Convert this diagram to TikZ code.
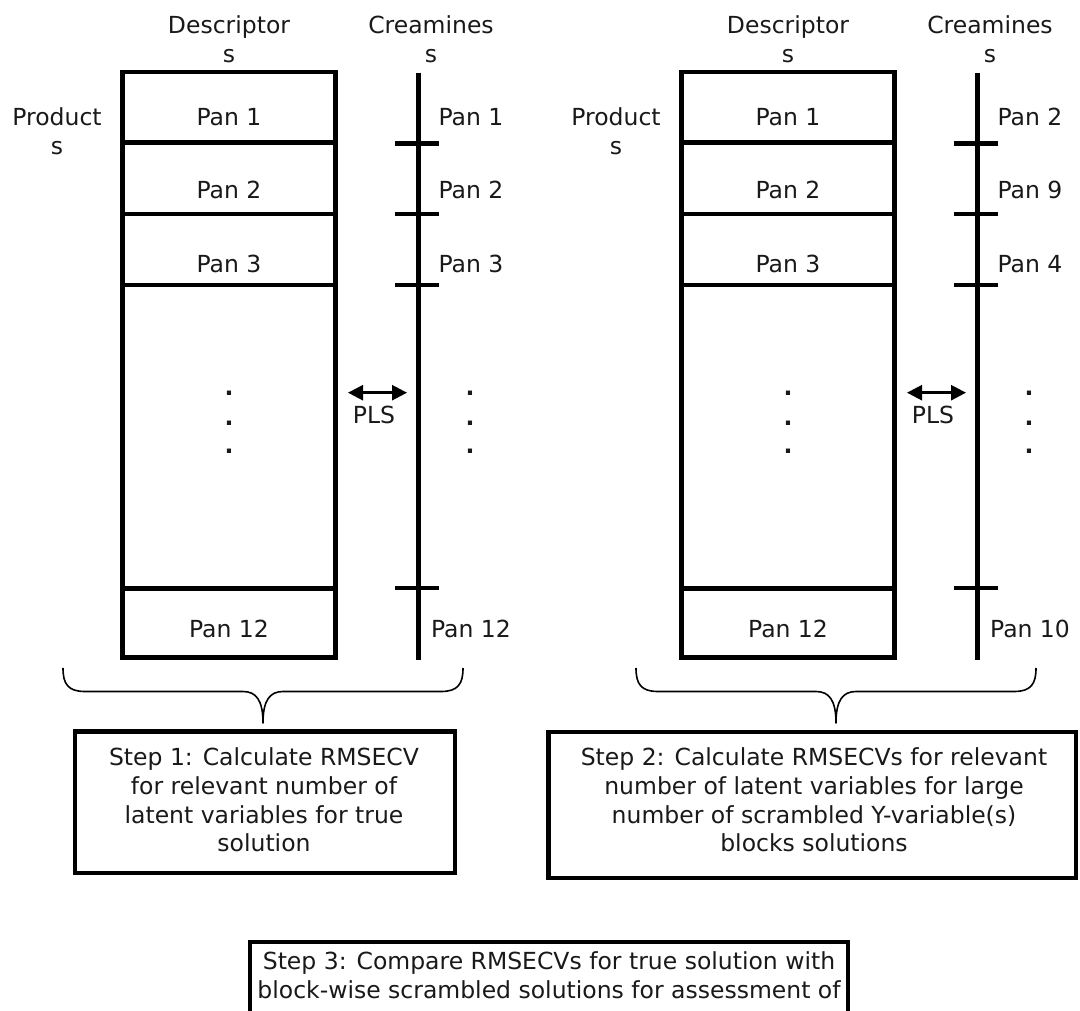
\documentclass[tikz,border=0pt]{standalone}
\usepackage{fontspec}
\setmainfont{DejaVu Sans}
\usetikzlibrary{arrows.meta}
\newcommand{\mypanel}[6]{%
\begin{scope}[xshift=#1]
  % descriptor block
  \draw[heavy] (122.5,72) rectangle (335.5,657.5);
  \foreach \yy in {142.5,214,285,588.5} \draw[heavy] (122.5,\yy) -- (335.5,\yy);
  \node[lbl,anchor=base] (#2d1) at (229,126) {Pan 1};
  \node[lbl,anchor=base] (#2d2) at (229,199) {Pan 2};
  \node[lbl,anchor=base] (#2d3) at (229,272.5) {Pan 3};
  \node[lbl,anchor=base] (#2d12) at (229,637) {Pan 12};
  \foreach \yy/\nn in {395.3/a,425/b,453.3/c}
    \node[lbl,anchor=base,font=\fontsize{23.5}{29}\selectfont\bfseries] (#2dd\nn) at (229,\yy) {.};
  % creamines axis
  \coordinate (#2ctop) at (418.5,72.7);
  \coordinate (#2cbot) at (418.5,660);
  \draw[axisline] (#2ctop) -- (#2cbot);
  \foreach \yy in {143.5,214,285,588} \draw[axisline] (395,\yy) -- (439,\yy);
  \node[lbl,anchor=base] (#2c1) at (471,126) {#3};
  \node[lbl,anchor=base] (#2c2) at (471,199) {#4};
  \node[lbl,anchor=base] (#2c3) at (471,272.5) {#5};
  \node[lbl,anchor=base] (#2c12) at (471,637) {#6};
  \foreach \yy/\nn in {395.3/a,425/b,453.3/c}
    \node[lbl,anchor=base,font=\fontsize{23.5}{29}\selectfont\bfseries] (#2cd\nn) at (470,\yy) {.};
  % headers
  \node[lbl] (#2hdesc) at (229,39.6) {Descriptor\\s};
  \node[lbl] (#2hcream) at (431,39.6) {Creamines\\s};
  \node[lbl] (#2hprod) at (57,131) {Product\\s};
  % PLS arrow
  \coordinate (#2plsL) at (348,392.7);
  \coordinate (#2plsR) at (407,392.7);
  \draw[plsarrow] (#2plsL) -- (#2plsR);
  \node[lbl,anchor=base] (#2pls) at (374,423) {PLS};
\end{scope}}
\begin{document}
\begin{tikzpicture}[x=1pt,y=-1pt,
  heavy/.style={line width=4.5pt, line cap=rect},
  axisline/.style={line width=4.5pt},
  lbl/.style={font=\fontsize{23.5}{29}\selectfont, inner sep=0pt, align=center, text=black!90},
  steptext/.style={font=\fontsize{23.5}{28.6}\selectfont, inner sep=0pt, align=center, text=black!90},
  plsarrow/.style={line width=2.5pt, {Triangle[length=15pt,width=15pt]}-{Triangle[length=15pt,width=15pt]}},
  bracel/.style={line width=1.6pt, line join=round},
  stepframe/.style={line width=4.5pt}]
\useasboundingbox (0,0) rectangle (1080,1011);

\mypanel{0pt}{L}{Pan 1}{Pan 2}{Pan 3}{Pan 12}
\mypanel{559pt}{R}{Pan 2}{Pan 9}{Pan 4}{Pan 10}

% braces
\draw[bracel] (63,668) .. controls (63,684) and (68,691.5) .. (85,691.5)
  -- (243,691.5) .. controls (256,691.5) and (263,700) .. (263,723)
  .. controls (263,700) and (270,691.5) .. (283,691.5)
  -- (441,691.5) .. controls (458,691.5) and (463,684) .. (463,668);
\draw[bracel] (636,668) .. controls (636,684) and (641,691.5) .. (658,691.5)
  -- (816,691.5) .. controls (829,691.5) and (836,700) .. (836,723)
  .. controls (836,700) and (843,691.5) .. (856,691.5)
  -- (1014,691.5) .. controls (1031,691.5) and (1036,684) .. (1036,668);

% step boxes
\draw[stepframe] (75,731.7) rectangle (455,873);
\node[steptext] (step1) at (264,800) {Step 1: Calculate RMSECV\\for relevant number of\\latent variables for true\\solution};
\draw[stepframe] (548.6,732) rectangle (1076,878);
\node[steptext] (step2) at (814,800) {Step 2: Calculate RMSECVs for relevant\\number of latent variables for large\\number of scrambled Y-variable(s)\\blocks solutions};
\draw[stepframe] (250,1020) -- (250,942) -- (848,942) -- (848,1020);
\node[steptext] (step3) at (549,975) {Step 3: Compare RMSECVs for true solution with\\block-wise scrambled solutions for assessment of};
\end{tikzpicture}
\end{document}
